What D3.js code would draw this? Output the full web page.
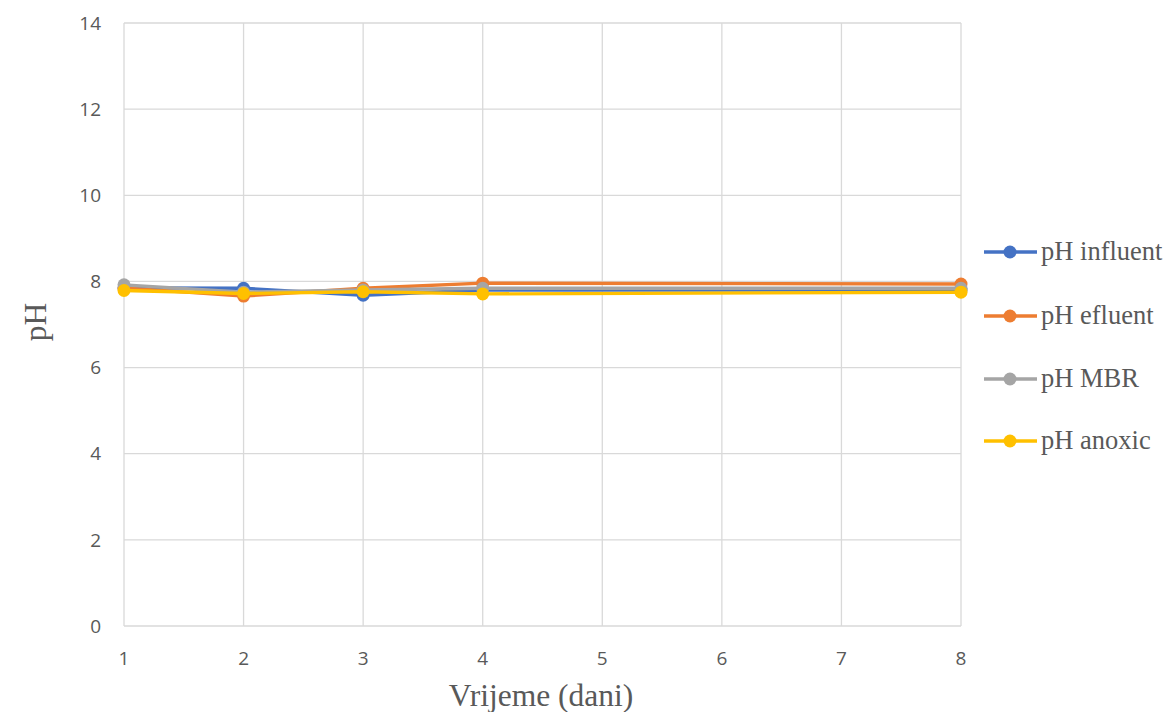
<!DOCTYPE html>
<html><head><meta charset="utf-8">
<script src="https://cdn.jsdelivr.net/npm/d3@7"></script>
<style>body{margin:0;background:#fff}</style>
</head><body>
<svg id="c" width="1168" height="712"></svg>
<script>
const days = [1, 2, 3, 4, 8];
const seriesNames = ["pH influent", "pH efluent", "pH MBR", "pH anoxic"];
const influent = [7.85, 7.84, 7.68, 7.80, 7.80];
const efluent = [7.85, 7.66, 7.84, 7.96, 7.94];
const mbr = [7.92, 7.75, 7.80, 7.84, 7.84];
const anoxic = [7.79, 7.72, 7.76, 7.71, 7.75];
const colors = ["#4472C4", "#ED7D31", "#A5A5A5", "#FFC000"];
const xTicks = [1, 2, 3, 4, 5, 6, 7, 8];
const yTicks = [0, 2, 4, 6, 8, 10, 12, 14];

const data = [influent, efluent, mbr, anoxic];
const svg = d3.select("#c");
const x = d3.scaleLinear().domain([1, 8]).range([124, 961]);
const y = d3.scaleLinear().domain([0, 14]).range([626, 23]);

// gridlines
svg.append("g").selectAll("line.h").data(yTicks).join("line")
  .attr("x1", 124).attr("x2", 961).attr("y1", d => y(d)).attr("y2", d => y(d))
  .attr("stroke", "#d9d9d9").attr("stroke-width", 1.3);
svg.append("g").selectAll("line.v").data(xTicks).join("line")
  .attr("x1", d => x(d)).attr("x2", d => x(d)).attr("y1", 23).attr("y2", 626)
  .attr("stroke", "#d9d9d9").attr("stroke-width", 1.3);

// tick labels
svg.append("g").selectAll("text").data(yTicks).join("text")
  .attr("x", 101).attr("y", d => y(d)).attr("dy", "0.35em")
  .attr("text-anchor", "end").attr("font-family", "Open Sans, sans-serif")
  .attr("font-size", 19).attr("fill", "#595959").text(d => d);
svg.append("g").selectAll("text").data(xTicks).join("text")
  .attr("x", d => x(d)).attr("y", 658).attr("dy", "0.35em")
  .attr("text-anchor", "middle").attr("font-family", "Open Sans, sans-serif")
  .attr("font-size", 19).attr("fill", "#595959").text(d => d);

// axis titles
svg.append("text").attr("x", 541).attr("y", 706).attr("text-anchor", "middle")
  .attr("font-family", "Liberation Serif, serif").attr("font-size", 31.5).attr("fill", "#595959")
  .text("Vrijeme (dani)");
svg.append("text").attr("transform", "translate(46,322) rotate(-90)").attr("text-anchor", "middle")
  .attr("font-family", "Liberation Serif, serif").attr("font-size", 31.5).attr("fill", "#595959")
  .text("pH");

// lines
const line = d3.line().x((d, i) => x(days[i])).y(d => y(d));
data.forEach((s, k) => {
  svg.append("path").datum(s).attr("d", line).attr("fill", "none")
    .attr("stroke", colors[k]).attr("stroke-width", 3.4).attr("stroke-linejoin", "round");
  svg.append("g").selectAll("circle").data(s).join("circle")
    .attr("cx", (d, i) => x(days[i])).attr("cy", d => y(d)).attr("r", 6.5)
    .attr("fill", colors[k]);
});

// legend
const lg = svg.append("g");
const ly = [252, 316, 379, 441];
seriesNames.forEach((n, k) => {
  lg.append("line").attr("x1", 984).attr("x2", 1037).attr("y1", ly[k]).attr("y2", ly[k])
    .attr("stroke", colors[k]).attr("stroke-width", 3.4);
  lg.append("circle").attr("cx", 1010).attr("cy", ly[k]).attr("r", 6.5).attr("fill", colors[k]);
  lg.append("text").attr("x", 1041).attr("y", ly[k]).attr("dy", "0.32em")
    .attr("font-family", "Liberation Serif, serif").attr("font-size", 26.5).attr("fill", "#595959")
    .text(n);
});
</script>
</body></html>
